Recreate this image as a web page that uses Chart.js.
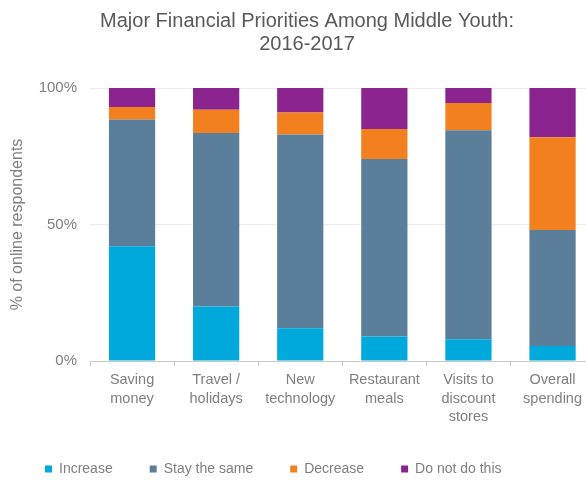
<!DOCTYPE html>
<html>
<head>
<meta charset="utf-8">
<script src="https://cdn.jsdelivr.net/npm/chart.js@4/dist/chart.umd.min.js"></script>
<style>
  html, body { margin: 0; padding: 0; background: #ffffff; overflow: hidden; width: 586px; height: 482px; }
  #chart { position: absolute; left: 0; top: 0; }
</style>
</head>
<body>
<canvas id="chart" width="614" height="486"></canvas>
<script>
// Survey categories (multi-line axis labels)
const categories = [
  ['Saving', 'money'],
  ['Travel /', 'holidays'],
  ['New', 'technology'],
  ['Restaurant', 'meals'],
  ['Visits to', 'discount', 'stores'],
  ['Overall', 'spending']
];

// Share of respondents per answer (%)
const increase = [42, 20, 12, 9, 8, 5.5];
const staySame = [46.5, 63.5, 71, 65, 76.5, 42.5];
const decrease = [4.5, 8.5, 8, 11, 10, 34];
const doNotDo  = [7, 8, 9, 15, 5.5, 18];

const seriesNames = ['Increase', 'Stay the same', 'Decrease', 'Do not do this'];
const yTicks = [0, 50, 100];

const colors = ['#00a9dc', '#5b7f9b', '#f3801f', '#8c2490'];
const textGray = '#7f7f7f';
const FONT = "'Liberation Sans', Arial, sans-serif";

const datasets = [increase, staySame, decrease, doNotDo].map((vals, i) => ({
  label: seriesNames[i],
  data: vals,
  backgroundColor: colors[i],
  borderWidth: 0,
  categoryPercentage: 0.55,
  barPercentage: 1
}));

new Chart(document.getElementById('chart'), {
  type: 'bar',
  data: { labels: categories, datasets },
  options: {
    responsive: false,
    animation: false,
    devicePixelRatio: 1,
    layout: { padding: { left: 8, right: 8, top: 0, bottom: 0 } },
    plugins: {
      title: {
        display: true,
        text: ['Major Financial Priorities Among Middle Youth:', '2016-2017'],
        color: '#595959',
        font: { family: FONT, size: 20, weight: 'normal', lineHeight: 1.15 },
        padding: { top: 10, bottom: 32 }
      },
      legend: {
        position: 'bottom',
        align: 'start',
        labels: {
          boxWidth: 7,
          boxHeight: 7,
          padding: 37,
          color: textGray,
          font: { family: FONT, size: 14 }
        }
      },
      tooltip: { enabled: false }
    },
    scales: {
      x: {
        stacked: true,
        grid: {
          offset: true,
          drawOnChartArea: false,
          drawTicks: true,
          tickLength: 5,
          color: '#c9c9c9'
        },
        border: { display: true, color: '#c9c9c9' },
        ticks: {
          padding: 5,
          color: textGray,
          font: { family: FONT, size: 14.5, lineHeight: 1.28 },
          maxRotation: 0,
          autoSkip: false
        },
        afterFit(s) { s.height = 64; }
      },
      y: {
        stacked: true,
        min: 0,
        max: 100,
        afterBuildTicks(s) { s.ticks = yTicks.map(v => ({ value: v })); },
        grid: { color: '#ececec', drawTicks: false },
        border: { display: false },
        ticks: {
          padding: 13,
          color: textGray,
          font: { family: FONT, size: 15 },
          callback: v => v + '%'
        },
        title: {
          display: true,
          text: '% of online respondents',
          color: textGray,
          font: { family: FONT, size: 16, lineHeight: 1.2 },
          padding: { top: 0, bottom: 0 }
        },
        afterFit(s) { s.width = 82; }
      },
      // narrow spacer on the right edge of the plot
      yRight: {
        type: 'linear',
        position: 'right',
        display: true,
        grid: { display: false },
        border: { display: false },
        ticks: { display: false },
        afterFit(s) { s.width = 11.4; }
      }
    }
  }
});
</script>
</body>
</html>
